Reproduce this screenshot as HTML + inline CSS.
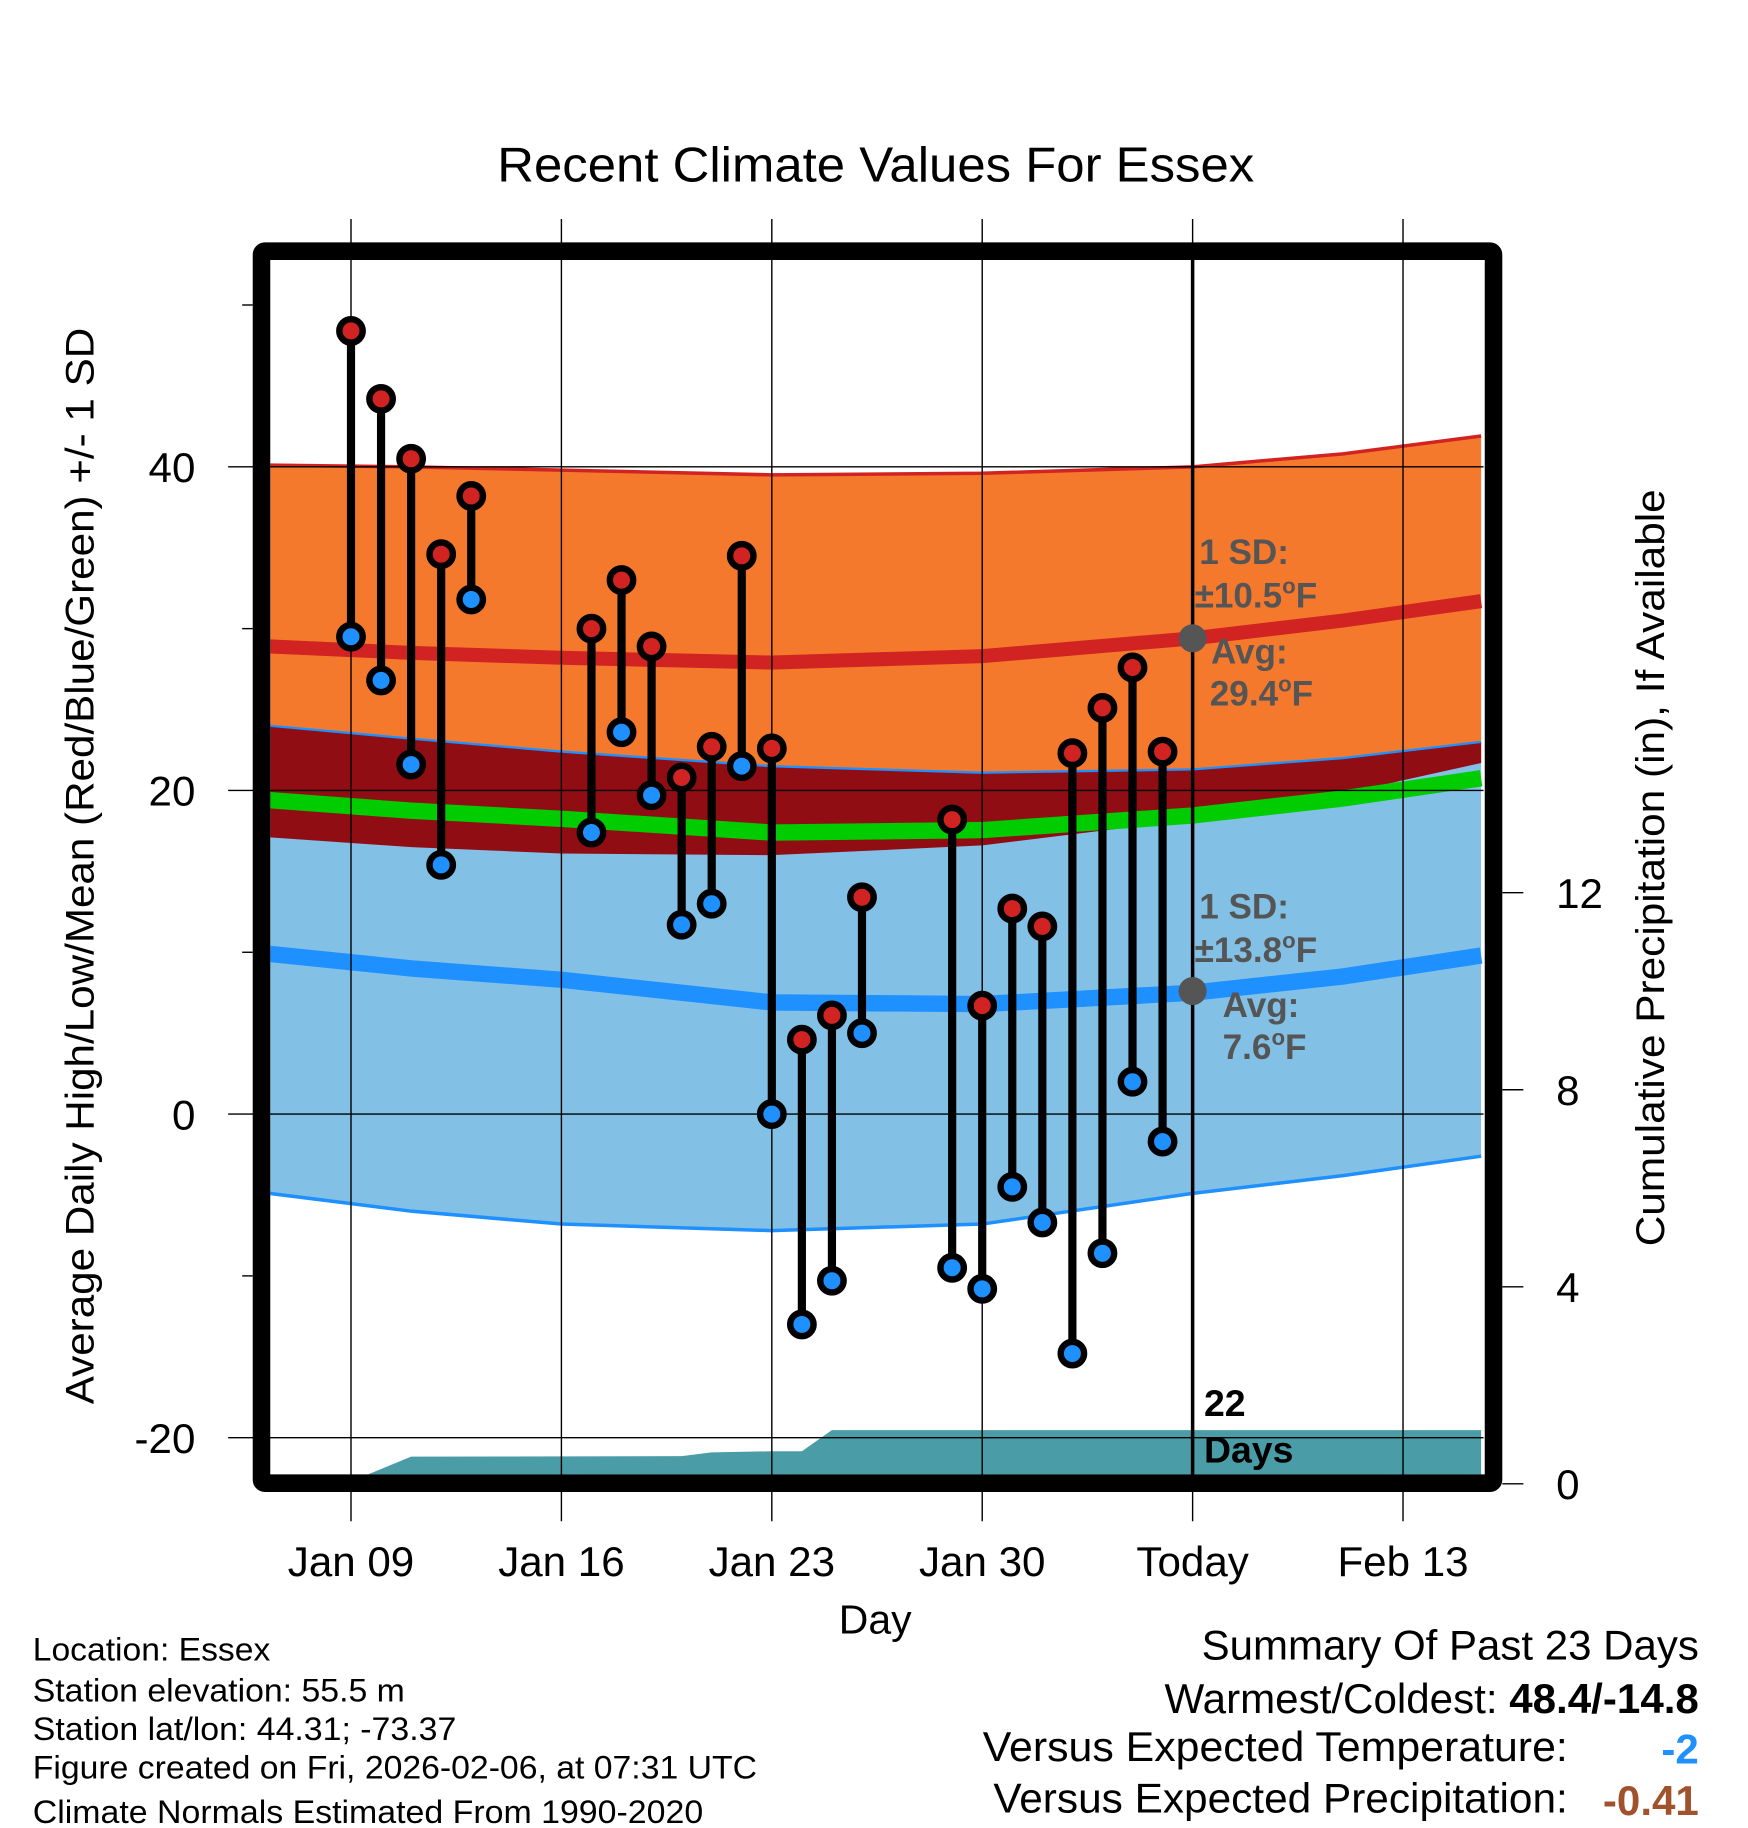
<!DOCTYPE html>
<html><head><meta charset="utf-8"><style>
html,body{margin:0;padding:0;background:#fff}
svg{display:block}
text{font-family:"Liberation Sans",sans-serif}
</style></head><body>
<svg id="chart" width="1748" height="1828" viewBox="0 0 1494 1562" xmlns="http://www.w3.org/2000/svg">
<text x="425" y="155" font-size="42" textLength="647" lengthAdjust="spacingAndGlyphs">Recent Climate Values For Essex</text>
<g id="plot"></g>
<text transform="translate(80,1200) rotate(-90)" font-size="34" textLength="920" lengthAdjust="spacingAndGlyphs">Average Daily High/Low/Mean (Red/Blue/Green) +/- 1 SD</text>
<text transform="translate(1422,1065) rotate(-90)" font-size="34" textLength="647" lengthAdjust="spacingAndGlyphs">Cumulative Precipitation (in), If Available</text>
<text x="748" y="1396" font-size="35" text-anchor="middle">Day</text>
<g font-size="28">
<text x="28" y="1419" textLength="203" lengthAdjust="spacingAndGlyphs">Location: Essex</text>
<text x="28" y="1454" textLength="318" lengthAdjust="spacingAndGlyphs">Station elevation: 55.5 m</text>
<text x="28" y="1487" textLength="362" lengthAdjust="spacingAndGlyphs">Station lat/lon: 44.31; -73.37</text>
<text x="28" y="1520" textLength="619" lengthAdjust="spacingAndGlyphs">Figure created on Fri, 2026-02-06, at 07:31 UTC</text>
<text x="28" y="1558" textLength="573" lengthAdjust="spacingAndGlyphs">Climate Normals Estimated From 1990-2020</text>
</g>
<g font-size="36">
<text x="1027" y="1418" textLength="425" lengthAdjust="spacingAndGlyphs">Summary Of Past 23 Days</text>
<text x="1452" y="1464" text-anchor="end">Warmest/Coldest: <tspan font-weight="bold">48.4/-14.8</tspan></text>
<text x="840" y="1505" textLength="500" lengthAdjust="spacingAndGlyphs">Versus Expected Temperature:</text>
<text x="1452" y="1507" text-anchor="end" font-weight="bold" fill="#1e90ff">-2</text>
<text x="849" y="1549" textLength="491" lengthAdjust="spacingAndGlyphs">Versus Expected Precipitation:</text>
<text x="1452" y="1551" text-anchor="end" font-weight="bold" fill="#a0522d">-0.41</text>
</g>
</svg>
<script>
const days=[0,1,2,3,4,8,9,10,11,12,13,14,15,16,17,20,21,22,23,24,25,26,27];
const highs=[48.4,44.2,40.5,34.6,38.2,30,33,28.9,20.8,22.7,34.5,22.6,4.6,6.1,13.4,18.2,6.7,12.7,11.6,22.3,25.1,27.6,22.4];
const lows=[29.5,26.8,21.6,15.4,31.8,17.4,23.6,19.7,11.7,13,21.5,0,-13,-10.3,5,-9.5,-10.8,-4.5,-6.7,-14.8,-8.6,2,-1.7];
const normDays=[-2.7,2,7,14,21,28,33,37.6];
const highTop=[40.1,40.0,39.8,39.5,39.6,40.0,40.8,41.9];
const highAvg=[28.9,28.5,28.2,27.9,28.3,29.4,30.5,31.7];
const highBottom=[17.1,16.5,16.1,16.0,16.6,18.2,19.8,21.7];
const lowTop=[24.0,23.2,22.4,21.5,21.1,21.3,22.0,23.0];
const lowAvg=[9.9,9.0,8.3,6.9,6.8,7.5,8.5,9.8];
const lowBottom=[-4.9,-6.0,-6.8,-7.2,-6.8,-4.9,-3.8,-2.6];
const precipDays=[0,1,2,11,12,14,15,16,28,37.6];
const precipVals=[0.05,0.3,0.55,0.56,0.64,0.66,0.66,1.09,1.09,1.09];
const xTickDays=[0,7,14,21,28,35];
const xTickLabels=["Jan 09","Jan 16","Jan 23","Jan 30","Today","Feb 13"];
const yTicks=[-20,0,20,40];
const yMinor=[-10,10,30,50];
const pTicks=[0,4,8,12];

const X=d=>300+d*25.69;
const Y=v=>952-v*13.83;
const P=p=>1268-p*42.1;
const NS="http://www.w3.org/2000/svg";
const g=document.getElementById('plot');
function mk(t,a,parent){const e=document.createElementNS(NS,t);for(const k in a)e.setAttribute(k,a[k]);(parent||g).appendChild(e);return e;}
const pts=(ds,vs,f)=>ds.map((d,i)=>X(d).toFixed(1)+','+f(vs[i]).toFixed(1));
const band=(top,bot)=>pts(normDays,top,Y).concat(pts(normDays,bot,Y).reverse()).join(' ');

mk('clipPath',{id:'clip'}).appendChild(mk('rect',{x:231,y:222,width:1037,height:1038}));
const pl=mk('g',{'clip-path':'url(#clip)'});

let e;
e=mk('polygon',{points:band(highTop,highBottom),fill:'#f5792d'},pl);

e=mk('polygon',{points:band(lowTop,lowBottom),fill:'#82c0e6'},pl);

e=mk('polygon',{points:band(lowTop,highBottom),fill:'#910d14'},pl);

const meanAvg=highAvg.map((h,i)=>(h+lowAvg[i])/2);
e=mk('polyline',{points:pts(normDays,highAvg,Y).join(' '),fill:'none',stroke:'#d22323','stroke-width':12},pl);

e=mk('polyline',{points:pts(normDays,lowAvg,Y).join(' '),fill:'none',stroke:'#1e90ff','stroke-width':14},pl);

e=mk('polyline',{points:pts(normDays,meanAvg,Y).join(' '),fill:'none',stroke:'#00cc00','stroke-width':14},pl);

mk('polyline',{points:pts(normDays,highTop,Y).join(' '),fill:'none',stroke:'#d22323','stroke-width':3},pl);
mk('polyline',{points:pts(normDays,lowTop,Y).join(' '),fill:'none',stroke:'#1e90ff','stroke-width':2},pl);
mk('polyline',{points:pts(normDays,lowBottom,Y).join(' '),fill:'none',stroke:'#1e90ff','stroke-width':3},pl);

const pp=pts(precipDays,precipVals,P);
e=mk('polygon',{points:[X(precipDays[0]).toFixed(1)+','+P(0)].concat(pp,[X(precipDays[precipDays.length-1]).toFixed(1)+','+P(0)]).join(' '),fill:'#4a9ca6'},pl);


xTickDays.forEach((d,i)=>{
 mk('line',{x1:X(d),x2:X(d),y1:187,y2:1300,stroke:'#000','stroke-width':1.2});
 e=mk('text',{x:X(d),y:1347,'font-size':36,'text-anchor':'middle'});
 e.textContent=xTickLabels[i];
 
});
yTicks.forEach(v=>{
 mk('line',{x1:195,x2:1268,y1:Y(v),y2:Y(v),stroke:'#000','stroke-width':1.2});
 e=mk('text',{x:167,y:Y(v)+13,'font-size':36,'text-anchor':'end'});
 e.textContent=v;
 
});
yMinor.forEach(v=>mk('line',{x1:207,x2:216,y1:Y(v),y2:Y(v),stroke:'#000','stroke-width':1.2}));
pTicks.forEach(p=>{
 mk('line',{x1:1284,x2:1302,y1:P(p),y2:P(p),stroke:'#000','stroke-width':1.2});
 e=mk('text',{x:1330,y:P(p)+13,'font-size':36});
 e.textContent=p;
 
});
e=mk('line',{x1:X(28),x2:X(28),y1:222,y2:1260,stroke:'#000','stroke-width':3});


const ann=mk('g',{'font-size':30,'font-weight':'bold',fill:'#555'});

ann.innerHTML='<text x="1025" y="482">1 SD:</text><text x="1021" y="519">±10.5<tspan dy="-12" font-size="19">o</tspan><tspan dy="12">F</tspan></text><text x="1035" y="567">Avg:</text><text x="1034" y="603">29.4<tspan dy="-12" font-size="19">o</tspan><tspan dy="12">F</tspan></text><text x="1025" y="785">1 SD:</text><text x="1021" y="822">±13.8<tspan dy="-12" font-size="19">o</tspan><tspan dy="12">F</tspan></text><text x="1045" y="869">Avg:</text><text x="1045" y="905">7.6<tspan dy="-12" font-size="19">o</tspan><tspan dy="12">F</tspan></text>';
mk('circle',{cx:X(28),cy:Y(29.4),r:12,fill:'#555'});
mk('circle',{cx:X(28),cy:Y(7.6),r:12,fill:'#555'});
const dt=mk('g',{'font-size':32,'font-weight':'bold'});

dt.innerHTML='<text x="1029" y="1210">22</text><text x="1029" y="1250">Days</text>';

e=mk('rect',{x:223.5,y:214.5,width:1053,height:1053,fill:'none',stroke:'#000','stroke-width':15,rx:3});


days.forEach((d,i)=>{
 const x=X(days[i]);
 e=mk('line',{x1:x,x2:x,y1:Y(highs[i]),y2:Y(lows[i]),stroke:'#000','stroke-width':7});
 
 e=mk('circle',{cx:x,cy:Y(highs[i]),r:10,fill:'#d22323',stroke:'#000','stroke-width':5.5});
 
 e=mk('circle',{cx:x,cy:Y(lows[i]),r:10,fill:'#1e90ff',stroke:'#000','stroke-width':5.5});
 
});
</script>
</body></html>
